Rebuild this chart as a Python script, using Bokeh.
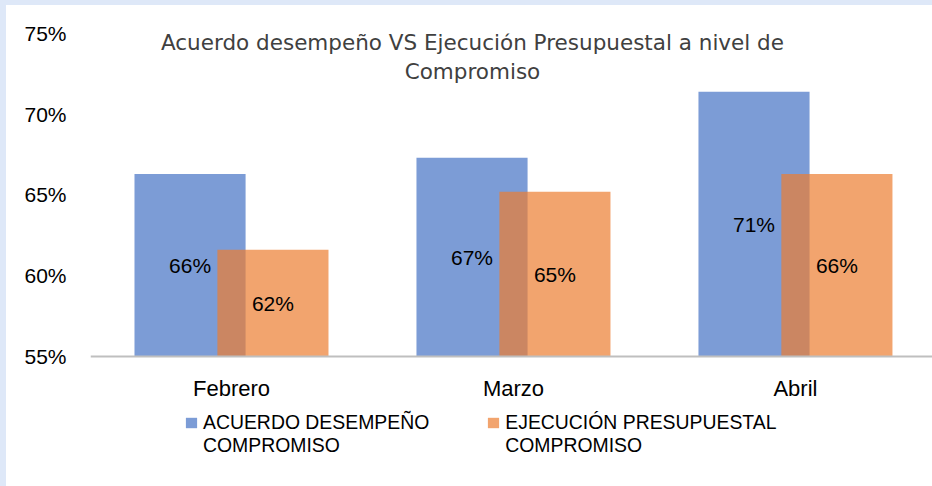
from bokeh.plotting import figure
from bokeh.models import (ColumnDataSource, Range1d, FixedTicker, Legend, LegendItem,
                          Label, NumeralTickFormatter)
from bokeh.embed import file_html
from bokeh.resources import INLINE

months = ["Febrero", "Marzo", "Abril"]
acuerdo = [0.663, 0.673, 0.714]
ejecucion = [0.616, 0.652, 0.663]
y_ticks = [0.55, 0.60, 0.65, 0.70, 0.75]
series_names = ["ACUERDO DESEMPEÑO\nCOMPROMISO", "EJECUCIÓN PRESUPUESTAL\nCOMPROMISO"]
title_lines = ["Acuerdo desempeño VS Ejecución Presupuestal a nivel de", "Compromiso"]

BLUE = "#4472C4"
ORANGE = "#ED7D31"
FONT = "Liberation Sans"
BASE = 0.55
OFFSET = 0.147
BAR_W = 0.394

xs = [i + 0.5 for i in range(len(months))]
src_a = ColumnDataSource(dict(
    x=[x - OFFSET for x in xs], top=acuerdo,
    ly=[(BASE + v) / 2 for v in acuerdo],
    lbl=[f"{round(v * 100):.0f}%" for v in acuerdo]))
src_e = ColumnDataSource(dict(
    x=[x + OFFSET for x in xs], top=ejecucion,
    ly=[(BASE + v) / 2 for v in ejecucion],
    lbl=[f"{round(v * 100):.0f}%" for v in ejecucion]))

# frame extends below the baseline so the legend can live inside it
p = figure(width=926, height=481, x_range=Range1d(0, 2.986), y_range=Range1d(0.47193, 0.75),
           output_backend="svg", toolbar_location=None,
           min_border_left=84, min_border_right=0, min_border_top=28, min_border_bottom=4)
p.outline_line_color = None
p.background_fill_color = "white"
p.border_fill_color = "white"
p.xgrid.visible = False
p.ygrid.visible = False

r1 = p.vbar(x="x", top="top", bottom=BASE, width=BAR_W, source=src_a,
            fill_color=BLUE, fill_alpha=0.7, line_color=None)
r2 = p.vbar(x="x", top="top", bottom=BASE, width=BAR_W, source=src_e,
            fill_color=ORANGE, fill_alpha=0.7, line_color=None)

for s in (src_a, src_e):
    p.text(x="x", y="ly", text="lbl", source=s, text_align="center",
           text_baseline="middle", text_font_size="21px", text_color="#000000",
           text_font={"value": FONT})

# axes
p.xaxis.fixed_location = BASE
p.xaxis.ticker = FixedTicker(ticks=xs)
p.xaxis.major_label_overrides = {x: m for x, m in zip(xs, months)}
p.xaxis.axis_line_color = "#BFBFBF"
p.xaxis.axis_line_width = 2
p.xaxis.major_tick_line_color = None
p.xaxis.minor_tick_line_color = None
p.xaxis.major_tick_out = 0
p.xaxis.major_label_standoff = 20
p.xaxis.major_label_text_font = FONT
p.xaxis.major_label_text_font_size = "22px"
p.xaxis.major_label_text_color = "#000000"

p.yaxis.ticker = FixedTicker(ticks=y_ticks)
p.yaxis.formatter = NumeralTickFormatter(format="0%")
p.yaxis.axis_line_color = None
p.yaxis.major_tick_line_color = None
p.yaxis.minor_tick_line_color = None
p.yaxis.major_tick_out = 0
p.yaxis.major_label_standoff = 24
p.yaxis.major_label_text_font = FONT
p.yaxis.major_label_text_font_size = "21px"
p.yaxis.major_label_text_color = "#000000"

# title
for txt, ty in zip(title_lines, (0.7445, 0.7266)):
    p.add_layout(Label(x=1.3546, y=ty, text=txt, text_align="center", text_baseline="middle",
                       text_font="DejaVu Sans", text_font_size="21.5px", text_color="#404040"))

# a leading blank line keeps each swatch level with the first line of its label
legend = Legend(items=[LegendItem(label="\n" + series_names[0], renderers=[r1]),
                       LegendItem(label="\n" + series_names[1], renderers=[r2])],
                orientation="horizontal", location=(94, 25),
                glyph_width=14, glyph_height=13, label_standoff=5, spacing=57,
                padding=0, margin=0, border_line_color=None, background_fill_alpha=0,
                label_text_font=FONT, label_text_font_size="19.4px",
                label_text_line_height=1.5, label_text_color="#000000")
p.add_layout(legend)

html = file_html(p, INLINE)
css = ("<style>html, body { background-color: #FFFFFF !important; }"
       " body { padding: 0 !important; border-top: 5px solid #DEE8F8;"
       " border-left: 6px solid #DEE8F8; }</style></head>")
html = html.replace("</head>", css, 1)
open("out.html", "w").write(html)
